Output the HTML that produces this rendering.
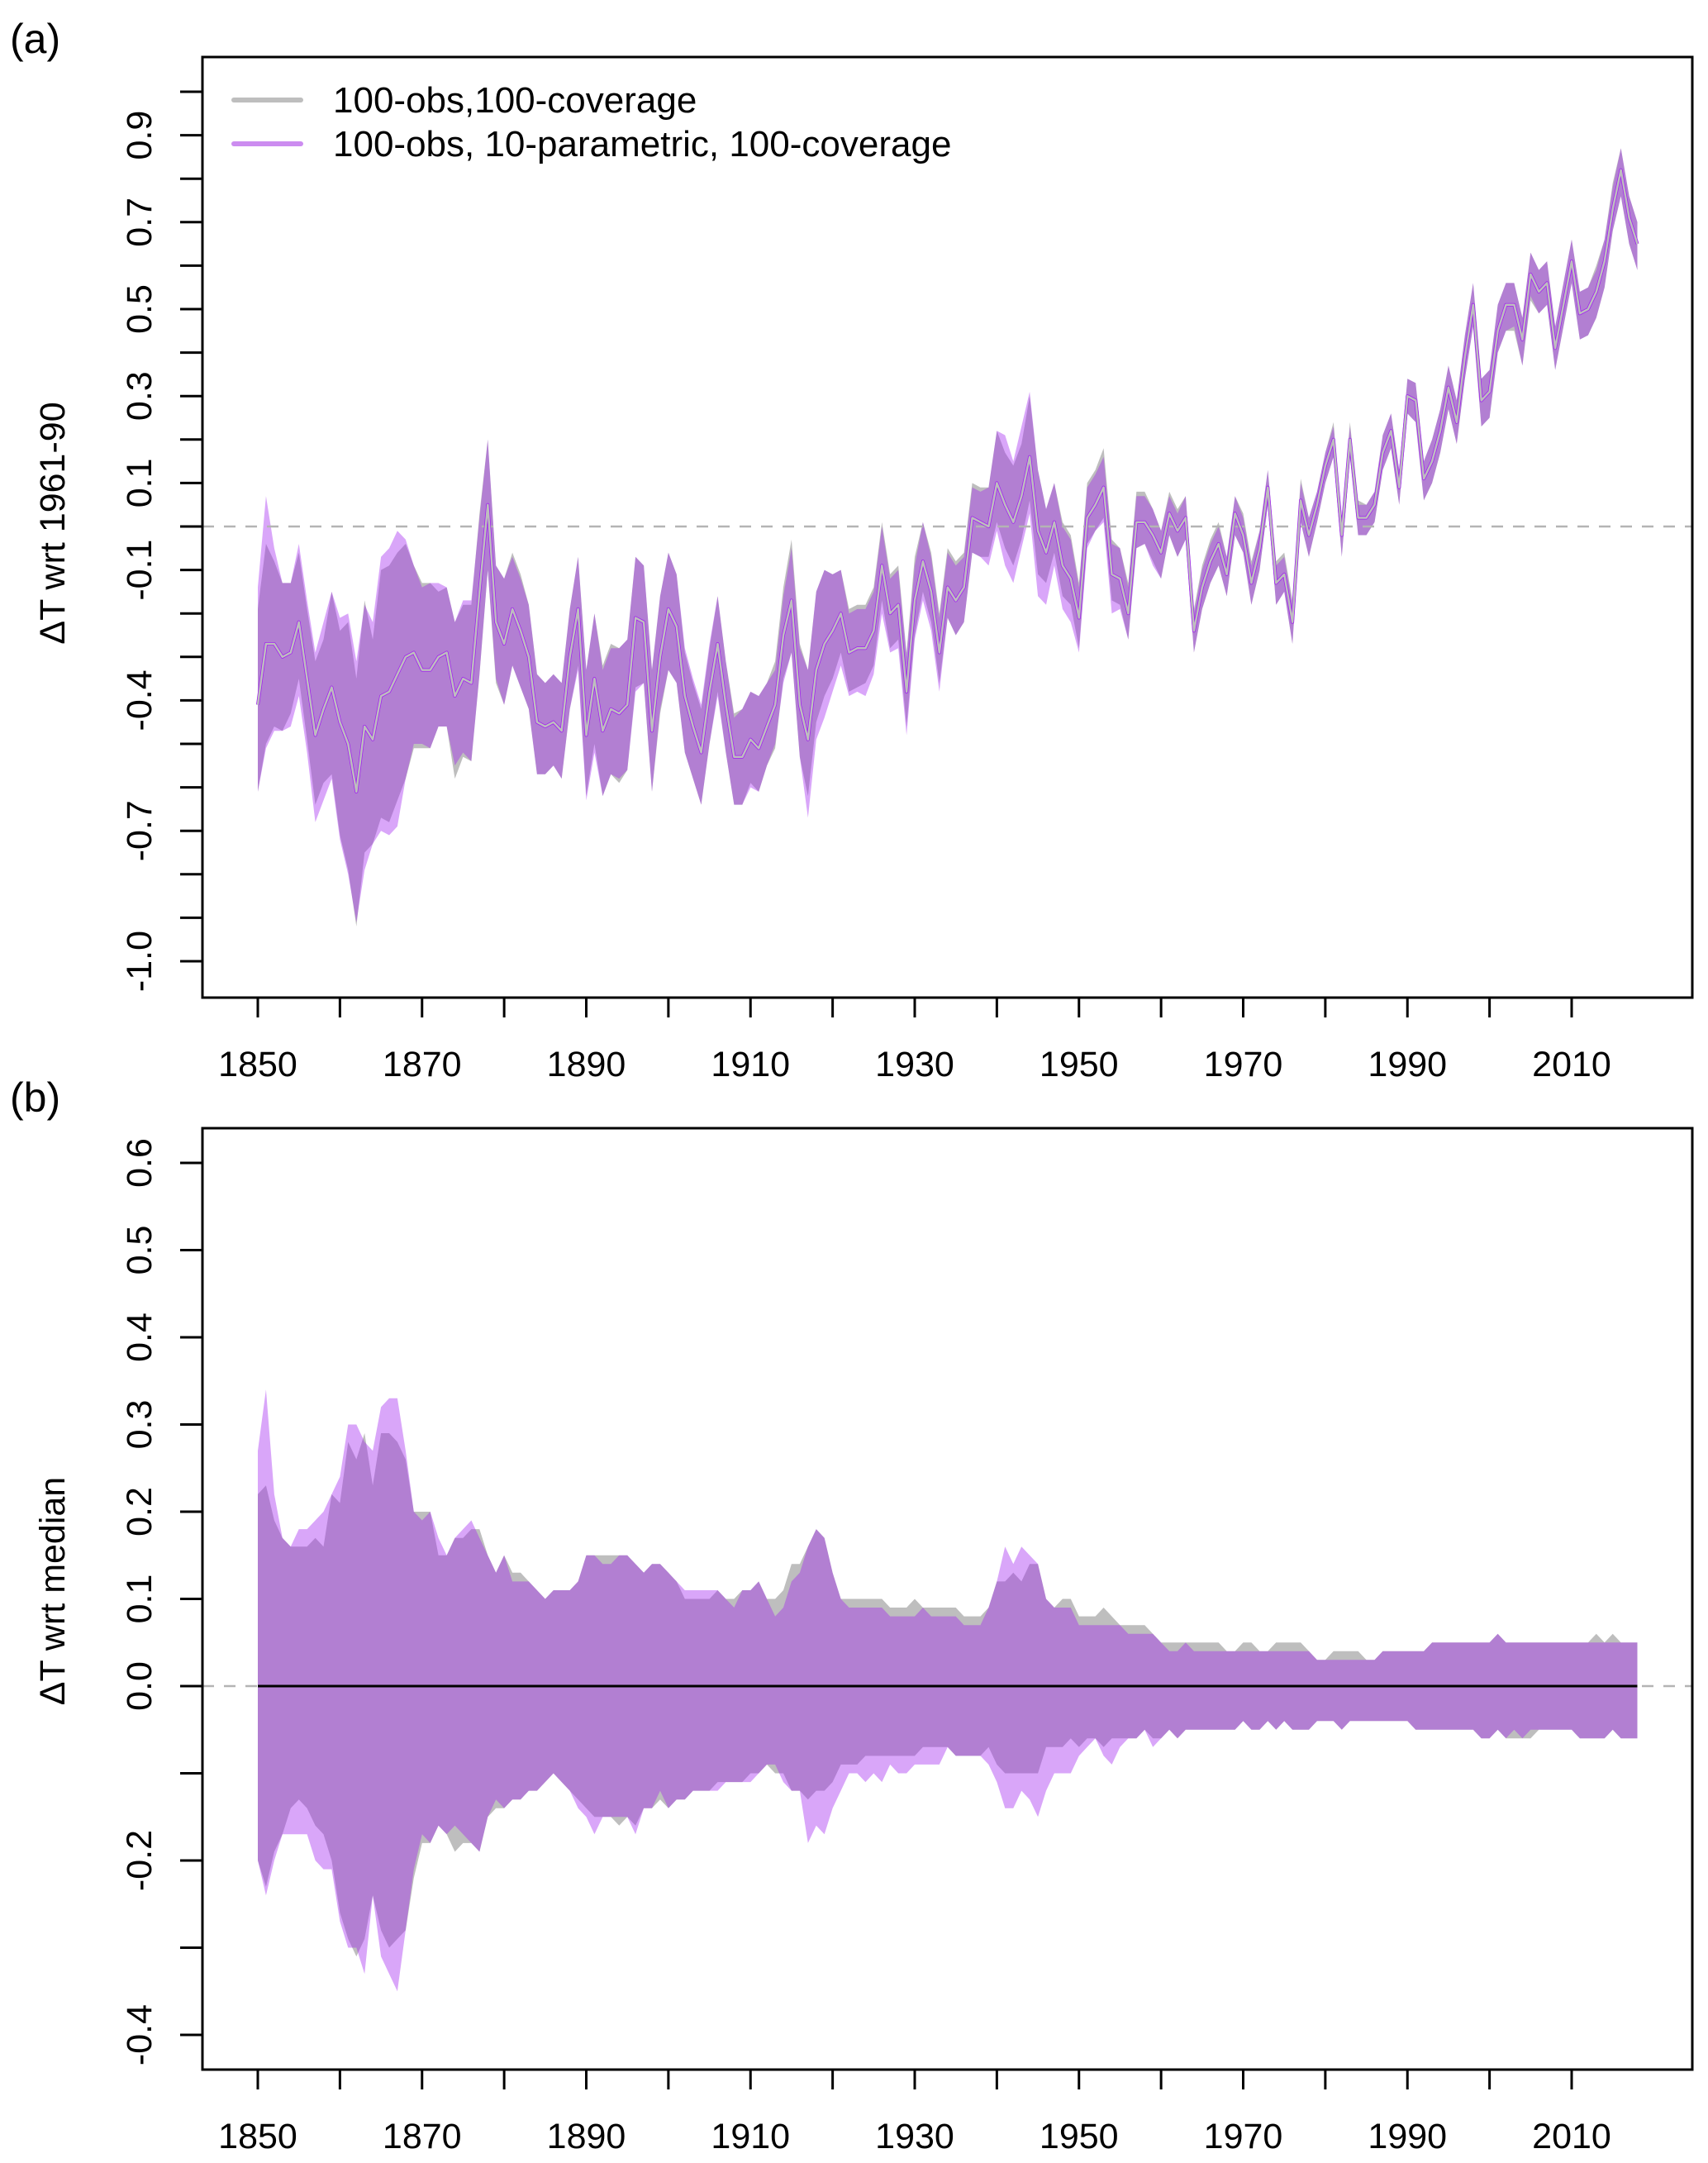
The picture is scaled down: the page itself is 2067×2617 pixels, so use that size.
<!DOCTYPE html>
<html><head><meta charset="utf-8"><style>html,body{margin:0;padding:0;background:#fff}svg{display:block}text{font-family:"Liberation Sans",Arial,sans-serif;fill:#000}</style></head>
<body>
<svg id="chart" xmlns="http://www.w3.org/2000/svg" width="2067" height="2617" viewBox="0 0 2067 2617">
<rect width="2067" height="2617" fill="#fff"/>
<g id="pa"></g>
<g id="pb"></g>
</svg>
<script>
const startYear = 1850;
const medianA = [-.41,-.27,-.27,-.30,-.29,-.22,-.35,-.48,-.42,-.37,
-.45,-.50,-.61,-.46,-.49,-.39,-.38,-.34,-.30,-.29,
-.33,-.33,-.30,-.29,-.39,-.35,-.36,-.15,.05,-.22,
-.27,-.19,-.24,-.30,-.45,-.46,-.45,-.47,-.30,-.19,
-.48,-.35,-.47,-.42,-.43,-.41,-.21,-.22,-.47,-.30,
-.19,-.23,-.39,-.46,-.52,-.38,-.27,-.41,-.53,-.53,
-.49,-.51,-.46,-.41,-.25,-.17,-.41,-.49,-.33,-.27,
-.24,-.20,-.29,-.28,-.28,-.24,-.09,-.20,-.18,-.38,
-.17,-.08,-.15,-.29,-.14,-.17,-.14,.02,.01,.00,
.10,.05,.01,.07,.16,-.01,-.06,.01,-.09,-.12,
-.21,.02,.05,.09,-.11,-.12,-.20,.01,.01,-.02,
-.06,.03,-.01,.02,-.24,-.14,-.08,-.04,-.11,.03,
-.02,-.13,-.05,.09,-.13,-.11,-.22,.06,-.02,.05,
.14,.20,-.02,.20,.02,.02,.05,.17,.22,.09,
.30,.29,.11,.15,.22,.32,.24,.39,.51,.29,
.31,.45,.51,.51,.43,.58,.54,.56,.41,.51,
.61,.49,.50,.54,.61,.73,.82,.71,.65];
const upPurple = [.27,.34,.22,.17,.16,.18,.18,.19,.20,.22,
.24,.30,.30,.28,.27,.32,.33,.33,.27,.20,
.19,.20,.17,.15,.17,.18,.19,.17,.15,.13,
.15,.12,.12,.12,.11,.10,.11,.11,.11,.12,
.15,.15,.14,.14,.15,.15,.14,.13,.14,.14,
.13,.12,.11,.11,.11,.11,.11,.10,.09,.11,
.11,.12,.10,.08,.09,.12,.13,.16,.18,.17,
.13,.10,.09,.09,.09,.09,.09,.08,.08,.08,
.08,.09,.08,.08,.08,.08,.07,.07,.07,.09,
.12,.16,.14,.16,.15,.14,.10,.09,.09,.09,
.07,.07,.07,.07,.07,.07,.06,.06,.06,.06,
.05,.04,.04,.05,.04,.04,.04,.04,.04,.04,
.04,.04,.04,.04,.04,.04,.04,.04,.04,.03,
.03,.03,.03,.03,.03,.03,.03,.04,.04,.04,
.04,.04,.04,.05,.05,.05,.05,.05,.05,.05,
.05,.06,.05,.05,.05,.05,.05,.05,.05,.05,
.05,.05,.05,.05,.05,.05,.05,.05,.05];
const upGray = [.22,.23,.19,.17,.16,.16,.16,.17,.16,.22,
.21,.28,.26,.29,.23,.29,.29,.28,.26,.20,
.20,.20,.15,.15,.17,.17,.18,.18,.15,.13,
.15,.13,.13,.12,.11,.10,.11,.11,.11,.12,
.15,.15,.15,.15,.15,.15,.14,.13,.14,.14,
.13,.12,.10,.10,.10,.10,.11,.10,.10,.11,
.11,.12,.10,.10,.11,.14,.14,.16,.18,.17,
.13,.10,.10,.10,.10,.10,.10,.09,.09,.09,
.10,.09,.09,.09,.09,.09,.08,.08,.08,.09,
.12,.12,.13,.12,.14,.14,.10,.09,.10,.10,
.08,.08,.08,.09,.08,.07,.07,.07,.07,.06,
.05,.05,.05,.05,.05,.05,.05,.05,.04,.04,
.05,.05,.04,.04,.05,.05,.05,.05,.04,.03,
.03,.04,.04,.04,.04,.03,.03,.04,.04,.04,
.04,.04,.04,.05,.05,.05,.05,.05,.05,.05,
.05,.06,.05,.05,.05,.05,.05,.05,.05,.05,
.05,.05,.05,.06,.05,.06,.05,.05,.05];
const loPurple = [-.20,-.24,-.20,-.17,-.17,-.17,-.17,-.20,-.21,-.21,
-.27,-.30,-.30,-.33,-.24,-.31,-.33,-.35,-.28,-.21,
-.17,-.18,-.16,-.17,-.16,-.17,-.18,-.19,-.15,-.13,
-.14,-.13,-.13,-.12,-.12,-.11,-.10,-.11,-.12,-.14,
-.15,-.17,-.15,-.15,-.15,-.15,-.17,-.14,-.14,-.12,
-.14,-.13,-.13,-.12,-.12,-.12,-.12,-.11,-.11,-.11,
-.11,-.10,-.09,-.09,-.11,-.12,-.12,-.18,-.16,-.17,
-.14,-.12,-.10,-.10,-.11,-.10,-.11,-.09,-.10,-.10,
-.09,-.09,-.09,-.09,-.07,-.08,-.08,-.08,-.08,-.09,
-.11,-.14,-.14,-.12,-.13,-.15,-.12,-.10,-.10,-.10,
-.08,-.07,-.06,-.08,-.09,-.07,-.06,-.06,-.05,-.07,
-.06,-.05,-.06,-.05,-.05,-.05,-.05,-.05,-.05,-.05,
-.04,-.05,-.05,-.04,-.05,-.04,-.05,-.05,-.05,-.04,
-.04,-.04,-.05,-.04,-.04,-.04,-.04,-.04,-.04,-.04,
-.04,-.05,-.05,-.05,-.05,-.05,-.05,-.05,-.05,-.06,
-.06,-.05,-.06,-.05,-.06,-.05,-.05,-.05,-.05,-.05,
-.05,-.06,-.06,-.06,-.06,-.05,-.06,-.06,-.06];
const loGray = [-.20,-.23,-.19,-.17,-.14,-.13,-.14,-.16,-.17,-.20,
-.26,-.29,-.31,-.29,-.24,-.28,-.30,-.29,-.28,-.22,
-.18,-.18,-.16,-.17,-.19,-.18,-.18,-.19,-.15,-.14,
-.14,-.13,-.13,-.12,-.12,-.11,-.10,-.11,-.12,-.13,
-.14,-.15,-.15,-.15,-.16,-.15,-.16,-.14,-.14,-.13,
-.14,-.13,-.13,-.12,-.12,-.12,-.11,-.11,-.11,-.11,
-.10,-.10,-.09,-.10,-.10,-.12,-.12,-.13,-.12,-.12,
-.11,-.09,-.09,-.09,-.08,-.08,-.08,-.08,-.08,-.08,
-.08,-.07,-.07,-.07,-.07,-.08,-.08,-.08,-.08,-.07,
-.09,-.10,-.10,-.10,-.10,-.10,-.07,-.07,-.07,-.06,
-.07,-.06,-.06,-.07,-.06,-.06,-.06,-.06,-.05,-.06,
-.06,-.05,-.06,-.05,-.05,-.05,-.05,-.05,-.05,-.05,
-.04,-.05,-.05,-.04,-.05,-.04,-.05,-.05,-.05,-.04,
-.04,-.04,-.05,-.04,-.04,-.04,-.04,-.04,-.04,-.04,
-.04,-.05,-.05,-.05,-.05,-.05,-.05,-.05,-.05,-.06,
-.06,-.05,-.06,-.06,-.06,-.06,-.05,-.05,-.05,-.05,
-.05,-.06,-.06,-.06,-.06,-.05,-.06,-.06,-.06];
const xTickYears = [1850,1860,1870,1880,1890,1900,1910,1920,1930,1940,1950,1960,1970,1980,1990,2000,2010];
const xLabelYears = [1850,1870,1890,1910,1930,1950,1970,1990,2010];
const yTicksA = [1.0,0.9,0.8,0.7,0.6,0.5,0.4,0.3,0.2,0.1,0.0,-0.1,-0.2,-0.3,-0.4,-0.5,-0.6,-0.7,-0.8,-0.9,-1.0];
const yLabelsA = ["0.9","0.7","0.5","0.3","0.1","-0.1","-0.4","-0.7","-1.0"];
const yTicksB = [0.6,0.5,0.4,0.3,0.2,0.1,0.0,-0.1,-0.2,-0.3,-0.4];
const yLabelsB = ["0.6","0.5","0.4","0.3","0.2","0.1","0.0","-0.2","-0.4"];
const legendLabels = ["100-obs,100-coverage","100-obs, 10-parametric, 100-coverage"];

const NS = "http://www.w3.org/2000/svg";
const L = 245, R = 2048;
const xS = y => 312 + (y - 1850) * 9.9375;
const yA = v => 637 - v * 526;
const yB = v => 2040 - v * 1055;
function mk(parent, tag, attrs, text) {
  const e = document.createElementNS(NS, tag);
  for (const k in attrs) e.setAttribute(k, attrs[k]);
  if (text !== undefined) e.textContent = text;
  parent.appendChild(e);
  return e;
}
function band(up, lo, base, yf) {
  const pts = [];
  for (let i = 0; i < up.length; i++) pts.push(xS(startYear + i).toFixed(1) + "," + yf(base(i) + up[i]).toFixed(1));
  for (let i = lo.length - 1; i >= 0; i--) pts.push(xS(startYear + i).toFixed(1) + "," + yf(base(i) + lo[i]).toFixed(1));
  return pts.join(" ");
}
function axes(g, top, bot, yf, ticks, labels, title, titleY, panelLabel, panelY) {
  for (const t of xTickYears) {
    const l = mk(g, "line", {x1: xS(t), x2: xS(t), y1: bot, y2: bot + 24, stroke: "#000", "stroke-width": 3});
    
    
  }
  for (const t of xLabelYears) {
    const tx = mk(g, "text", {x: xS(t), y: bot + 95, "font-size": 43, "text-anchor": "middle"}, String(t));
    
    
  }
  for (const v of ticks) {
    const l = mk(g, "line", {x1: L - 27, x2: L, y1: yf(v), y2: yf(v), stroke: "#000", "stroke-width": 3});
    
    
  }
  for (const s of labels) {
    const y = yf(parseFloat(s));
    const tx = mk(g, "text", {x: 183, y: y, "font-size": 43, "text-anchor": "middle", transform: "rotate(-90 183 " + y + ")"}, s);
    
    
  }
  const ty = mk(g, "text", {x: 78, y: titleY, "font-size": 43, "text-anchor": "middle", transform: "rotate(-90 78 " + titleY + ")"}, title);
  
  
  const pl = mk(g, "text", {x: 12, y: panelY, "font-size": 50}, panelLabel);
  
  
  const dz = mk(g, "line", {x1: L, x2: R, y1: yf(0), y2: yf(0), stroke: "#b4b4b4", "stroke-width": 2.5, "stroke-dasharray": "14 12"});
  
  
}

// Panel A
const pa = document.getElementById("pa");
const gA = mk(pa, "polygon", {points: band(upGray, loGray, i => medianA[i], yA), fill: "#bebebe"});


const pA = mk(pa, "polygon", {points: band(upPurple, loPurple, i => medianA[i], yA), fill: "rgb(160,32,240)", "fill-opacity": 0.4});


axes(pa, 69, 1207, yA, yTicksA, yLabelsA, "\u0394T wrt 1961-90", 633, "(a)", 64);
const medPts = medianA.map((v, i) => xS(startYear + i).toFixed(1) + "," + yA(v).toFixed(1)).join(" ");
const mp = mk(pa, "polyline", {points: medPts, fill: "none", stroke: "#a020f0", "stroke-width": 4, "stroke-linejoin": "round"});


const mg = mk(pa, "polyline", {points: medPts, fill: "none", stroke: "#bebebe", "stroke-width": 2.5, "stroke-linejoin": "round"});


const boxA = mk(pa, "rect", {x: L, y: 69, width: R - L, height: 1207 - 69, fill: "none", stroke: "#000", "stroke-width": 3});


const legCols = ["#bebebe", "rgb(204,140,240)"];
legendLabels.forEach((s, i) => {
  const yy = 121 + i * 53;
  const ln = mk(pa, "line", {x1: 283, x2: 364, y1: yy, y2: yy, stroke: legCols[i], "stroke-width": 6, "stroke-linecap": "round"});
  
  
  const tx = mk(pa, "text", {x: 403, y: yy + 15, "font-size": 44}, s);
  
  
});

// Panel B
const pb = document.getElementById("pb");
const gB = mk(pb, "polygon", {points: band(upGray, loGray, i => 0, yB), fill: "#bebebe"});


const pB = mk(pb, "polygon", {points: band(upPurple, loPurple, i => 0, yB), fill: "rgb(160,32,240)", "fill-opacity": 0.4});


axes(pb, 1365, 2504, yB, yTicksB, yLabelsB, "\u0394T wrt median", 1925, "(b)", 1345);
const zl = mk(pb, "line", {x1: xS(startYear), x2: xS(startYear + medianA.length - 1), y1: yB(0), y2: yB(0), stroke: "#000", "stroke-width": 3});


const boxB = mk(pb, "rect", {x: L, y: 1365, width: R - L, height: 2504 - 1365, fill: "none", stroke: "#000", "stroke-width": 3});


</script>
</body></html>
